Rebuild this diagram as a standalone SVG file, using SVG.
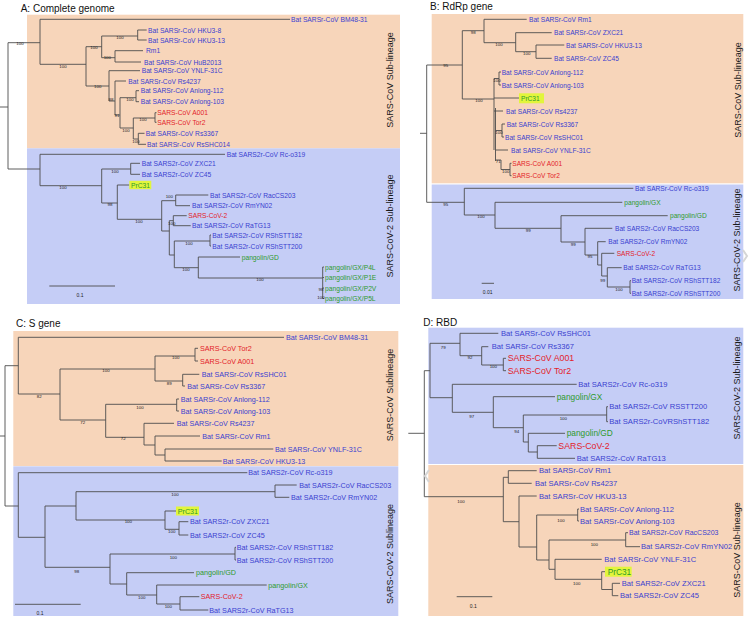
<svg xmlns="http://www.w3.org/2000/svg" width="750" height="618" viewBox="0 0 750 618">
<style>
text{font-family:"Liberation Sans",Arial,sans-serif;dominant-baseline:central}
.ti{font-size:10px;fill:#111}
.vl{font-size:9px;fill:#1a1a1a;text-anchor:middle}
.bl{fill:#3a3fd0}
.rd{fill:#e3222a}
.gr{fill:#2d9a2d}
.fa{font-size:6.7px}
.fb{font-size:6.6px}
.fc{font-size:7.2px}
.fd{font-size:7.6px}
.fdr{font-size:8.8px}
.fdg{font-size:8.3px}
.bs{font-size:4.4px;fill:#222;text-anchor:middle}
.sc{font-size:5px;fill:#222;text-anchor:middle}
.br{fill:none;stroke:#4d4d4d;stroke-width:0.9}
.or{fill:#f7d5ba}
.bu{fill:#c5cdf6}
.hl{fill:#e2f53c}
.chev{fill:none;stroke:#d6d6d6;stroke-width:2}
</style>
<rect width="750" height="618" fill="#ffffff"/>

<!-- backgrounds -->
<g id="backgrounds">
<rect class="or" x="27" y="14.7" width="373" height="133.6"/>
<rect class="bu" x="27" y="148.3" width="373" height="155.7"/>
<rect class="or" x="431.7" y="14" width="311.6" height="169.3"/>
<rect class="bu" x="431.7" y="184.5" width="311.6" height="114.5"/>
<rect class="or" x="13.3" y="331" width="385" height="135"/>
<rect class="bu" x="13.3" y="466.3" width="385" height="149.7"/>
<rect class="bu" x="428.3" y="327.7" width="315" height="136.3"/>
<rect class="or" x="428.3" y="465" width="315" height="151"/>
</g>

<!-- titles and lineage labels -->
<g id="titles">
<text class="ti" x="20.7" y="8">A: Complete genome</text>
<text class="ti" x="430" y="6.5">B: RdRp gene</text>
<text class="ti" x="16" y="323">C: S gene</text>
<text class="ti" x="423.3" y="322.3">D: RBD</text>
<text class="vl" transform="translate(390,80) rotate(-90)">SARS-CoV Sub-lineage</text>
<text class="vl" transform="translate(390,226) rotate(-90)">SARS-CoV-2 Sub-lineage</text>
<text class="vl" transform="translate(738,90) rotate(-90)">SARS-CoV Sub-lineage</text>
<text class="vl" transform="translate(737,240) rotate(-90)">SARS-CoV-2 Sub-lineage</text>
<text class="vl" transform="translate(390,395) rotate(-90)">SARS-CoV Sublineage</text>
<text class="vl" transform="translate(390,554) rotate(-90)">SARS-CoV-2 Sublineage</text>
<text class="vl" transform="translate(737,388) rotate(-90)">SARS-CoV-2 Sub-lineage</text>
<text class="vl" transform="translate(737,550) rotate(-90)">SARS-CoV Sub-lineage</text>
</g>

<!-- connectors (tree branches) -->
<g id="connectors">
<path class="br" d="M0 107H8M8 42.7V169M8 42.7H40M40 19.3V64.3M40 19.3H290M40 64.3H86M86 46.7V86M86 46.7H101.7M101.7 36V57.7M101.7 36H137.7M137.7 30V40M137.7 30H146.7M137.7 40H146.7M101.7 57.7H115M115 50.7V62M115 50.7H143M115 62H141M86 86H109M109 70.7V101M109 70.7H140M109 101H115M115 81V115M115 81H126M115 115H120M120 97.7V128M120 97.7H136M136 90.7V101.7M136 90.7H139M136 101.7H139M120 128H133.3M133.3 118V139M133.3 118H155M155 112.7V122.3M155 112.7H156.5M155 122.3H156.5M133.3 139H138.3M138.3 133.3V144.3M138.3 133.3H144.5M138.3 144.3H146"/>
<path class="br" d="M8 169H40M40 154.3V185.7M40 154.3H225M40 185.7H101.7M101.7 169V203M101.7 169H130.7M130.7 163.3V174.3M130.7 163.3H140M130.7 174.3H140M101.7 203H117.3M117.3 185V219.3M117.3 185H129.3M117.3 219.3H161.7M161.7 200.7V231M161.7 200.7H175.7M175.7 195V205.7M175.7 195H208.3M175.7 205.7H190M161.7 231H169.3M169.3 220.7V255M169.3 220.7H173.3M173.3 215.7V225.7M173.3 215.7H186.7M173.3 225.7H190.7M169.3 255H174.3M174.3 241V267.7M174.3 241H210M210 235V246M210 235H211M210 246H211M174.3 267.7H198.3M198.3 257V278M198.3 257H240M198.3 278H322.7M322.7 267V298.5M322.7 267H324M322.7 277.5H324M322.7 288H324M322.7 298.5H324"/>
<path class="br" d="M420 133.3H426.7M426.7 65V202.3M426.7 65H462.3M462.3 30.7V99M462.3 30.7H484M484 19.3V42.7M484 19.3H526.7M484 42.7H515.7M515.7 32.7V51.7M515.7 32.7H551.7M515.7 51.7H536M536 45V58.3M536 45H564.3M536 58.3H551.7M462.3 99H494M494 78.5V150M494 78.5H499M499 72V85M499 72H501M499 85H501M494 98H519M494 111H503M495.5 130.5H502M502 124V137M502 124H505M502 137H504M495.5 150H508M495.5 160H501M501 160V169.5M501 169.5H510M510 163.3V175.7M510 163.3H511.5M510 175.7H511.5"/>
<path class="br" stroke-width="1.6" d="M495.5 108V161"/>
<path class="br" d="M426.7 202.3H464.3M464.3 188.3V215M464.3 188.3H633.3M464.3 215H495M495 202.3V228.3M495 202.3H622.3M495 228.3H561M561 215.7V242M561 215.7H667.7M561 242H585M585 228.3V255M585 228.3H612.3M585 255H597.7M597.7 241.7V265M597.7 241.7H605.7M597.7 265H601.7M601.7 253.3V276M601.7 253.3H614.3M601.7 276H607.3M607.3 267.7V287M607.3 267.7H621.7M607.3 287H630M630 280.7V293.3M630 280.7H631M630 293.3H631"/>
<path class="br" d="M0 436H5M5 365.7V506M5 365.7H18.3M18.3 337.3V394M18.3 337.3H284M18.3 394H60M60 369V420M60 369H155M155 356V381M155 356H195M195 348.3V361M195 348.3H198M195 361H198M155 381H182.7M182.7 374.3V386M182.7 374.3H199.3M182.7 386H185M60 420H105.7M105.7 404.3V437.3M105.7 404.3H176.7M176.7 399V411M176.7 399H179M176.7 411H179M105.7 437.3H144M144 423.3V445M144 423.3H174M144 445H155M155 436V455M155 436H200M155 455H165M165 449V461M165 449H273.3M165 461H221.7"/>
<path class="br" d="M5 506H18.3M18.3 472.7V537.3M18.3 472.7H247.3M18.3 537.3H45M45 506V567.3M45 506H76M76 491.7V520M76 491.7H275M275 485V497.3M275 485H296.7M275 497.3H289.3M76 520H165M165 511V529.3M165 511H176M165 529.3H179M179 521.7V535M179 521.7H188.3M179 535H188.3M45 567.3H110M110 554V584M110 554H235M235 547.3V560M235 547.3H236M235 560H236M110 584H126.7M126.7 572.7V595M126.7 572.7H194M126.7 595H156.7M156.7 585V604M156.7 585H266.7M156.7 604H180M180 596.7V610M180 596.7H199.3M180 610H208.3"/>
<path class="br" d="M408.3 433.3H424.3M424.3 370.7V496.7M424.3 370.7H430M430 343.3V397.7M430 343.3H460M460 333.3V355.7M460 333.3H498.3M460 355.7H481.7M481.7 346.7V365M481.7 346.7H488.3M481.7 365H503.3M503.3 358.3V370.7M503.3 358.3H506M503.3 370.7H506M430 397.7H452.3M452.3 384.3V412.3M452.3 384.3H576.7M452.3 412.3H493.3M493.3 396.7V427.7M493.3 396.7H555M493.3 427.7H523.3M523.3 415V442M523.3 415H606.7M606.7 406.7V421.7M606.7 406.7H608M606.7 421.7H608M523.3 442H528.3M528.3 433.3V452M528.3 433.3H565M528.3 452H537.3M537.3 445.7V458.3M537.3 445.7H556.7M537.3 458.3H575"/>
<path class="br" d="M424.3 496.7H503.3M503.3 477.3V521.7M503.3 477.3H508.3M508.3 470.7V483.3M508.3 470.7H536.7M508.3 483.3H531.7M503.3 521.7H519M519 496V547M519 496H536.7M519 547H536.7M536.7 515V560M536.7 515H577.7M577.7 509V521M577.7 509H579M577.7 521H579M536.7 560H549M549 540V569.3M549 540H625.7M625.7 532.7V546.7M625.7 532.7H628M625.7 546.7H640M549 569.3H555M555 559.3V579.3M555 559.3H601.7M555 579.3H601.7M601.7 571.7V589.5M601.7 571.7H605M601.7 589.5H612.3M612.3 583.3V595.7M612.3 583.3H620M612.3 595.7H618.3"/>
<!-- scale bars -->
<path class="br" d="M49.3 286H115M481.7 283.3H494M15 604.3H80.7M456.7 596.7H492.3"/>
<polyline class="chev" points="743,250 747,256 743,262"/>
<polyline class="chev" points="429,470 425,476 429,482"/>
</g>

<!-- bootstrap values -->
<g id="support">
<text class="bs" x="20" y="43.7">100</text>
<text class="bs" x="63" y="66">100</text>
<text class="bs" x="94" y="47.7">100</text>
<text class="bs" x="120" y="37">100</text>
<text class="bs" x="107.3" y="57.7">100</text>
<text class="bs" x="97.7" y="86.5">100</text>
<text class="bs" x="111" y="99">88</text>
<text class="bs" x="117" y="115.5">91</text>
<text class="bs" x="130" y="99">100</text>
<text class="bs" x="126" y="130">100</text>
<text class="bs" x="143" y="119">100</text>
<text class="bs" x="136" y="141">100</text>
<text class="bs" x="63" y="187">100</text>
<text class="bs" x="115" y="171">100</text>
<text class="bs" x="110" y="204">98</text>
<text class="bs" x="139" y="221">100</text>
<text class="bs" x="169.3" y="196.7">100</text>
<text class="bs" x="171.7" y="223">100</text>
<text class="bs" x="189" y="243">100</text>
<text class="bs" x="186" y="269">100</text>
<text class="bs" x="260" y="279">100</text>
<text class="bs" x="321" y="289">98</text>
<text class="bs" x="321" y="297">100</text>

<text class="bs" x="445.7" y="65.7">95</text>
<text class="bs" x="473.3" y="32.3">98</text>
<text class="bs" x="499" y="44.3">100</text>
<text class="bs" x="526.7" y="53.3">100</text>
<text class="bs" x="479" y="100.7">100</text>
<text class="bs" x="497" y="80">100</text>
<text class="bs" x="499" y="132">100</text>
<text class="bs" x="498.3" y="161">71</text>
<text class="bs" x="505.7" y="171">100</text>
<text class="bs" x="445.7" y="204">95</text>
<text class="bs" x="481" y="216.7">100</text>
<text class="bs" x="528.3" y="230">99</text>
<text class="bs" x="573.3" y="244">99</text>
<text class="bs" x="590" y="256">95</text>
<text class="bs" x="602.7" y="280">99</text>
<text class="bs" x="619" y="289">100</text>

<text class="bs" x="39.3" y="396.7">82</text>
<text class="bs" x="106" y="370.3">100</text>
<text class="bs" x="175.7" y="357.7">100</text>
<text class="bs" x="169.3" y="383">89</text>
<text class="bs" x="82.7" y="422.3">72</text>
<text class="bs" x="140" y="407.7">100</text>
<text class="bs" x="123.3" y="438.3">72</text>
<text class="bs" x="175" y="494.3">100</text>
<text class="bs" x="128.3" y="521.7">100</text>
<text class="bs" x="171.7" y="531">100</text>
<text class="bs" x="76.7" y="571.7">98</text>
<text class="bs" x="173.3" y="557.3">100</text>
<text class="bs" x="141.7" y="597.3">100</text>
<text class="bs" x="168.3" y="606.7">100</text>

<text class="bs" x="443.3" y="347.7">79</text>
<text class="bs" x="470" y="357.7">92</text>
<text class="bs" x="493.3" y="366.7">100</text>
<text class="bs" x="471.7" y="416">97</text>
<text class="bs" x="516.7" y="431.7">94</text>
<text class="bs" x="563.3" y="418.3">100</text>
<text class="bs" x="461" y="501.7">100</text>
<text class="bs" x="561" y="520">100</text>
<text class="bs" x="594.3" y="544">100</text>
<text class="bs" x="576.7" y="583.3">100</text>

<text class="sc" x="80" y="295">0.1</text>
<text class="sc" x="487.7" y="291.7">0.01</text>
<text class="sc" x="40" y="612.7">0.1</text>
<text class="sc" x="473.3" y="606">0.1</text>
</g>

<!-- Panel A leaves -->
<g id="panelA" class="fa">
<g id="a-bm48"><text class="bl" x="291" y="19.3">Bat SARSr-CoV BM48-31</text></g>
<g id="a-hku38"><text class="bl" x="148" y="30">Bat SARSr-CoV HKU3-8</text></g>
<g id="a-hku313"><text class="bl" x="148" y="40">Bat SARSr-CoV HKU3-13</text></g>
<g id="a-rm1"><text class="bl" x="146" y="50.7">Rm1</text></g>
<g id="a-hub"><text class="bl" x="144" y="62">Bat SARSr-CoV HuB2013</text></g>
<g id="a-ynlf"><text class="bl" x="141.7" y="70.7">Bat SARSr-CoV YNLF-31C</text></g>
<g id="a-rs4237"><text class="bl" x="128.3" y="81">Bat SARSr-CoV Rs4237</text></g>
<g id="a-an112"><text class="bl" x="140.7" y="90.7">Bat SARSr-CoV Anlong-112</text></g>
<g id="a-an103"><text class="bl" x="140.7" y="101.7">Bat SARSr-CoV Anlong-103</text></g>
<g id="a-a001"><text class="rd" x="157.3" y="112.7">SARS-CoV A001</text></g>
<g id="a-tor2"><text class="rd" x="157.3" y="122.3">SARS-CoV Tor2</text></g>
<g id="a-rs3367"><text class="bl" x="145.7" y="133.3">Bat SARSr-CoV Rs3367</text></g>
<g id="a-shc014"><text class="bl" x="147" y="144.3">Bat SARSr-CoV RsSHC014</text></g>
<g id="a-rc"><text class="bl" x="226.7" y="154.3">Bat SARS2r-CoV Rc-o319</text></g>
<g id="a-zxc21"><text class="bl" x="141.7" y="163.3">Bat SARS2r-CoV ZXC21</text></g>
<g id="a-zc45"><text class="bl" x="141.7" y="174.3">Bat SARS2r-CoV ZC45</text></g>
<g id="a-prc31"><rect class="hl" x="129.3" y="180.8" width="22" height="8.4"/><text class="gr" x="131" y="185">PrC31</text></g>
<g id="a-rac"><text class="bl" x="210" y="195">Bat SARS2r-CoV RacCS203</text></g>
<g id="a-rmyn"><text class="bl" x="192" y="205.7">Bat SARS2r-CoV RmYN02</text></g>
<g id="a-sars2"><text class="rd" x="188.3" y="215.7">SARS-CoV-2</text></g>
<g id="a-ratg"><text class="bl" x="192" y="225.7">Bat SARS2r-CoV RaTG13</text></g>
<g id="a-st182"><text class="bl" x="212.3" y="235">Bat SARS2r-CoV RShSTT182</text></g>
<g id="a-st200"><text class="bl" x="212.3" y="246">Bat SARS2r-CoV RShSTT200</text></g>
<g id="a-gd"><text class="gr" x="241.7" y="257">pangolin/GD</text></g>
<g id="a-p4l"><text class="gr" x="325" y="267">pangolin/GX/P4L</text></g>
<g id="a-p1e"><text class="gr" x="325" y="277.5">pangolin/GX/P1E</text></g>
<g id="a-p2v"><text class="gr" x="325" y="288">pangolin/GX/P2V</text></g>
<g id="a-p5l"><text class="gr" x="325" y="298.5">pangolin/GX/P5L</text></g>
</g>

<!-- Panel B leaves -->
<g id="panelB" class="fb">
<g id="b-rm1"><text class="bl" x="529" y="19.3">Bat SARSr-CoV Rm1</text></g>
<g id="b-zxc21"><text class="bl" x="554" y="32.7">Bat SARSr-CoV ZXC21</text></g>
<g id="b-hku313"><text class="bl" x="566" y="45">Bat SARSr-CoV HKU3-13</text></g>
<g id="b-zc45"><text class="bl" x="554" y="58.3">Bat SARSr-CoV ZC45</text></g>
<g id="b-an112"><text class="bl" x="501.7" y="72">Bat SARSr-CoV Anlong-112</text></g>
<g id="b-an103"><text class="bl" x="501.7" y="85">Bat SARSr-CoV Anlong-103</text></g>
<g id="b-prc31"><rect class="hl" x="519" y="93.3" width="25" height="10"/><text class="gr" x="521" y="98">PrC31</text></g>
<g id="b-rs4237"><text class="bl" x="506" y="111">Bat SARSr-CoV Rs4237</text></g>
<g id="b-rs3367"><text class="bl" x="506.7" y="124">Bat SARSr-CoV Rs3367</text></g>
<g id="b-shc01"><text class="bl" x="505" y="137">Bat SARSr-CoV RsSHC01</text></g>
<g id="b-ynlf"><text class="bl" x="511" y="150">Bat SARSr-CoV YNLF-31C</text></g>
<g id="b-a001"><text class="rd" x="512.3" y="163.3">SARS-CoV A001</text></g>
<g id="b-tor2"><text class="rd" x="512.3" y="175.7">SARS-CoV Tor2</text></g>
<g id="b-rc"><text class="bl" x="635" y="188.3">Bat SARSr-CoV Rc-o319</text></g>
<g id="b-gx"><text class="gr" x="624.3" y="202.3">pangolin/GX</text></g>
<g id="b-gd"><text class="gr" x="670" y="215.7">pangolin/GD</text></g>
<g id="b-rac"><text class="bl" x="615" y="228.3">Bat SARS2r-CoV RacCS203</text></g>
<g id="b-rmyn"><text class="bl" x="608.3" y="241.7">Bat SARS2r-CoV RmYN02</text></g>
<g id="b-sars2"><text class="rd" x="616.7" y="253.3">SARS-CoV-2</text></g>
<g id="b-ratg"><text class="bl" x="623.3" y="267.7">Bat SARS2r-CoV RaTG13</text></g>
<g id="b-st182"><text class="bl" x="631.7" y="280.7">Bat SARS2r-CoV RShSTT182</text></g>
<g id="b-st200"><text class="bl" x="631.7" y="293.3">Bat SARS2r-CoV RShSTT200</text></g>
</g>

<!-- Panel C leaves -->
<g id="panelC" class="fc">
<g id="c-bm48"><text class="bl" x="286" y="337.3">Bat SARSr-CoV BM48-31</text></g>
<g id="c-tor2"><text class="rd" x="200" y="348.3">SARS-CoV Tor2</text></g>
<g id="c-a001"><text class="rd" x="200" y="361">SARS-CoV A001</text></g>
<g id="c-shc01"><text class="bl" x="201.7" y="374.3">Bat SARSr-CoV RsSHC01</text></g>
<g id="c-rs3367"><text class="bl" x="187.3" y="386">Bat SARSr-CoV Rs3367</text></g>
<g id="c-an112"><text class="bl" x="180.7" y="399">Bat SARSr-CoV Anlong-112</text></g>
<g id="c-an103"><text class="bl" x="180.7" y="411">Bat SARSr-CoV Anlong-103</text></g>
<g id="c-rs4237"><text class="bl" x="176.7" y="423.3">Bat SARSr-CoV Rs4237</text></g>
<g id="c-rm1"><text class="bl" x="202.3" y="436">Bat SARSr-CoV Rm1</text></g>
<g id="c-ynlf"><text class="bl" x="275" y="449">Bat SARSr-CoV YNLF-31C</text></g>
<g id="c-hku313"><text class="bl" x="222.7" y="461">Bat SARSr-CoV HKU3-13</text></g>
<g id="c-rc"><text class="bl" x="248.3" y="472.7">Bat SARS2r-CoV Rc-o319</text></g>
<g id="c-rac"><text class="bl" x="299.3" y="485">Bat SARS2r-CoV RacCS203</text></g>
<g id="c-rmyn"><text class="bl" x="291" y="497.3">Bat SARS2r-CoV RmYN02</text></g>
<g id="c-prc31"><rect class="hl" x="176" y="506.5" width="23" height="9"/><text class="gr" x="177.7" y="511">PrC31</text></g>
<g id="c-zxc21"><text class="bl" x="190" y="521.7">Bat SARS2r-CoV ZXC21</text></g>
<g id="c-zc45"><text class="bl" x="190" y="535">Bat SARS2r-CoV ZC45</text></g>
<g id="c-st182"><text class="bl" x="236.7" y="547.3">Bat SARS2r-CoV RShSTT182</text></g>
<g id="c-st200"><text class="bl" x="236.7" y="560">Bat SARS2r-CoV RShSTT200</text></g>
<g id="c-gd"><text class="gr" x="196" y="572.7">pangolin/GD</text></g>
<g id="c-gx"><text class="gr" x="268.3" y="585">pangolin/GX</text></g>
<g id="c-sars2"><text class="rd" x="200.7" y="596.7">SARS-CoV-2</text></g>
<g id="c-ratg"><text class="bl" x="209.3" y="610">Bat SARS2r-CoV RaTG13</text></g>
</g>

<!-- Panel D leaves -->
<g id="panelD" class="fd">
<g id="d-shc01"><text class="bl" x="501" y="333.3">Bat SARSr-CoV RsSHC01</text></g>
<g id="d-rs3367"><text class="bl" x="491.7" y="346.7">Bat SARSr-CoV Rs3367</text></g>
<g id="d-a001"><text class="rd fdr" x="507.7" y="358.3">SARS-CoV A001</text></g>
<g id="d-tor2"><text class="rd fdr" x="507.7" y="370.7">SARS-CoV Tor2</text></g>
<g id="d-rc"><text class="bl" x="578.3" y="384.3">Bat SARS2r-CoV Rc-o319</text></g>
<g id="d-gx"><text class="gr fdg" x="556.7" y="396.7">pangolin/GX</text></g>
<g id="d-st200"><text class="bl" x="609.3" y="406.7">Bat SARS2r-CoV RSSTT200</text></g>
<g id="d-st182"><text class="bl" x="609.3" y="421.7">Bat SARS2r-CoVRShSTT182</text></g>
<g id="d-gd"><text class="gr fdg" x="566.7" y="433.3">pangolin/GD</text></g>
<g id="d-sars2"><text class="rd fdr" x="558.3" y="445.7">SARS-CoV-2</text></g>
<g id="d-ratg"><text class="bl" x="576.7" y="458.3">Bat SARS2r-CoV RaTG13</text></g>
<g id="d-rm1"><text class="bl" x="539" y="470.7">Bat SARSr-CoV Rm1</text></g>
<g id="d-rs4237"><text class="bl" x="535" y="483.3">Bat SARSr-CoV Rs4237</text></g>
<g id="d-hku313"><text class="bl" x="539" y="496">Bat SARSr-CoV HKU3-13</text></g>
<g id="d-an112"><text class="bl" x="580" y="509">Bat SARSr-CoV Anlong-112</text></g>
<g id="d-an103"><text class="bl" x="580" y="521">Bat SARSr-CoV Anlong-103</text></g>
<g id="d-rac"><text class="bl" x="629" y="532.7" font-size="7">Bat SARS2r-CoV RacCS203</text></g>
<g id="d-rmyn"><text class="bl" x="641" y="546.7">Bat SARS2r-CoV RmYN02</text></g>
<g id="d-ynlf"><text class="bl" x="604.3" y="559.3">Bat SARSr-CoV YNLF-31C</text></g>
<g id="d-prc31"><rect class="hl" x="605" y="566.7" width="26.7" height="10"/><text class="gr fdg" x="607.7" y="571.7">PrC31</text></g>
<g id="d-zxc21"><text class="bl" x="621.7" y="583.3">Bat SARS2r-CoV ZXC21</text></g>
<g id="d-zc45"><text class="bl" x="620" y="595.7">Bat SARS2r-CoV ZC45</text></g>
</g>
</svg>
